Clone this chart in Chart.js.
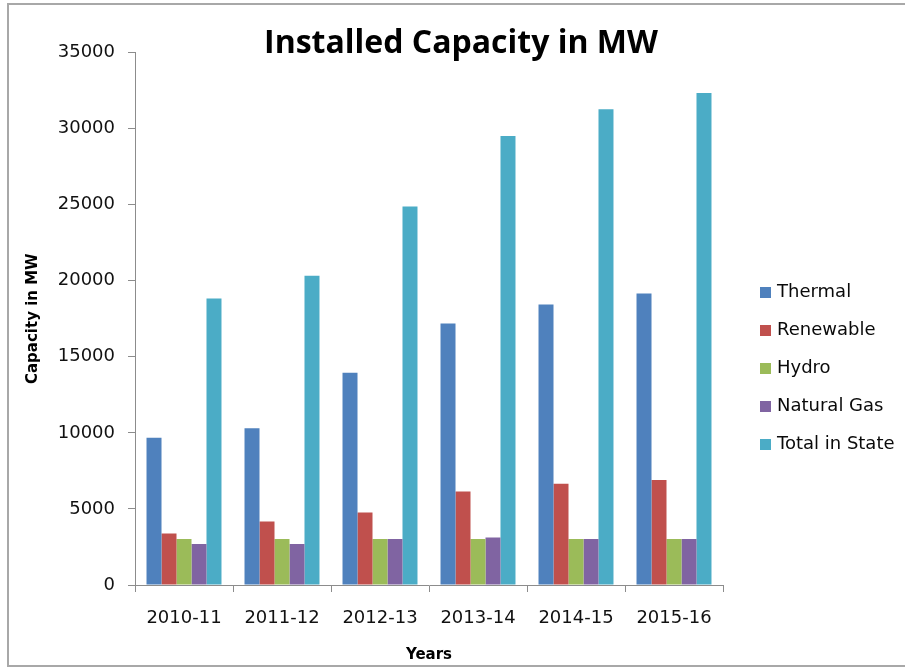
<!DOCTYPE html>
<html>
<head>
<meta charset="utf-8">
<script src="https://cdn.jsdelivr.net/npm/chart.js@4/dist/chart.umd.min.js"></script>
<style>
  html, body { margin: 0; padding: 0; background: #ffffff; }
  #wrap { width: 905px; height: 668px; }
</style>
</head>
<body>
<div id="wrap"><canvas id="c" width="905" height="668"></canvas></div>
<script>
const years = ["2010-11", "2011-12", "2012-13", "2013-14", "2014-15", "2015-16"];
const thermal = [9670, 10300, 13950, 17180, 18430, 19160];
const renewable = [3380, 4170, 4770, 6150, 6660, 6900];
const hydro = [3030, 3030, 3030, 3030, 3030, 3030];
const naturalGas = [2700, 2700, 3030, 3120, 3030, 3030];
const totalInState = [18830, 20320, 24870, 29500, 31260, 32340];
const seriesNames = ["Thermal", "Renewable", "Hydro", "Natural Gas", "Total in State"];
const seriesColors = ["#4F81BD", "#C0504D", "#9BBB59", "#8064A2", "#4BACC6"];
const yTicks = [0, 5000, 10000, 15000, 20000, 25000, 30000, 35000];

const seriesData = [thermal, renewable, hydro, naturalGas, totalInState];

const frame = {
  id: 'frame',
  afterLayout(chart) {
    if (chart.titleBlock) {
      chart.titleBlock.left = 0;
      chart.titleBlock.right = 922;
    }
  },
  beforeDraw(chart) {
    const ctx = chart.ctx;
    ctx.save();
    ctx.fillStyle = '#ffffff';
    ctx.fillRect(0, 0, chart.width, chart.height);
    ctx.strokeStyle = '#a8a8a8';
    ctx.lineWidth = 2;
    ctx.beginPath();
    ctx.moveTo(chart.width + 5, 4);
    ctx.lineTo(8, 4);
    ctx.lineTo(8, 666);
    ctx.lineTo(chart.width + 5, 666);
    ctx.stroke();
    ctx.restore();
  }
};

const customLegend = {
  id: 'customLegend',
  afterDraw(chart) {
    const ctx = chart.ctx;
    ctx.save();
    ctx.font = '18px "DejaVu Sans"';
    ctx.textBaseline = 'middle';
    ctx.textAlign = 'left';
    chart.data.datasets.forEach((ds, i) => {
      const y = 292 + i * 38;
      ctx.fillStyle = ds.backgroundColor;
      ctx.fillRect(760, y - 5, 11, 11);
      ctx.fillStyle = '#0a0a0a';
      ctx.fillText(ds.label, 777, y);
    });
    ctx.restore();
  }
};

new Chart(document.getElementById('c'), {
  type: 'bar',
  data: {
    labels: years,
    datasets: seriesNames.map((name, i) => ({
      label: name,
      data: seriesData[i],
      backgroundColor: seriesColors[i],
      borderWidth: 0,
      categoryPercentage: 0.765,
      barPercentage: 1.0
    }))
  },
  options: {
    responsive: false,
    animation: false,
    layout: { padding: { left: 10, right: 182, top: 0, bottom: 0 } },
    plugins: {
      legend: { display: false },
      tooltip: { enabled: false },
      title: {
        display: true,
        text: 'Installed Capacity in MW',
        color: '#000000',
        font: { family: 'Open Sans', size: 32, weight: 'bold', lineHeight: 1.2 },
        padding: { top: 25, bottom: -11 }
      }
    },
    scales: {
      x: {
        grid: { display: true, drawOnChartArea: false, drawTicks: true, tickLength: 7, color: '#8c8c8c', offset: true },
        border: { display: true, color: '#8c8c8c', width: 1 },
        ticks: { color: '#111111', font: { family: 'DejaVu Sans', size: 18 }, padding: 16, maxRotation: 0 },
        title: {
          display: true, text: 'Years', color: '#000000',
          font: { family: 'DejaVu Sans', size: 15, weight: 'bold', lineHeight: 1.2 },
          padding: { top: 0, bottom: 4 }
        },
        afterFit(scale) { scale.height = 83; }
      },
      y: {
        min: 0, max: 35000,
        afterBuildTicks(scale) { scale.ticks = yTicks.map(v => ({ value: v })); },
        grid: { display: true, drawOnChartArea: false, drawTicks: true, tickLength: 7, color: '#8c8c8c' },
        border: { display: true, color: '#8c8c8c', width: 1 },
        ticks: { color: '#111111', font: { family: 'DejaVu Sans', size: 18 }, padding: 13, callback: (v) => String(v) },
        title: {
          display: true, text: 'Capacity in MW', color: '#000000',
          font: { family: 'DejaVu Sans', size: 15, weight: 'bold', lineHeight: 1.2 },
          padding: { top: 14, bottom: 0 }
        },
        afterFit(scale) { scale.width = 125; }
      }
    }
  },
  plugins: [frame, customLegend]
});
</script>
</body>
</html>
